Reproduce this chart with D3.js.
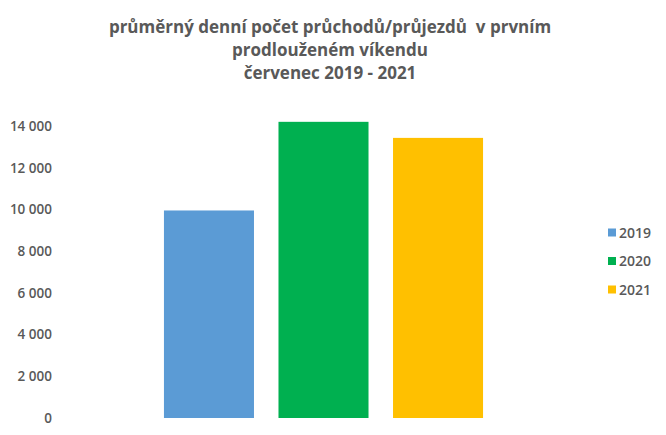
<!DOCTYPE html>
<html lang="cs">
<head>
<meta charset="UTF-8">
<title>průměrný denní počet průchodů</title>
<script src="https://cdn.jsdelivr.net/npm/d3@7"></script>
<style>
	body { margin: 0; background: #fff; }
	text { font-family: "Open Sans", "Liberation Sans", sans-serif; fill: #595959; }
</style>
</head>
<body>
<svg id="viz"></svg>
<script>
	// Data ---
	const years = ['2019', '2020', '2021'];
	const values = [9950, 14200, 13430];
	const colors = ['#5b9bd5', '#00b050', '#ffc000'];
	const yTicks = [0, 2000, 4000, 6000, 8000, 10000, 12000, 14000];
	const titleLines = [
		'průměrný denní počet průchodů/průjezdů  v prvním',
		'prodlouženém víkendu',
		'červenec 2019 - 2021'
	];

	const width = 666, height = 435;
	const svg = d3.select('#viz').attr('width', width).attr('height', height);

	// Scales ---
	const y = d3.scaleLinear().domain([0, 14000]).range([418, 126]);
	const x = d3.scaleBand().domain(years).range([152.5, 494.5])
		.paddingInner(0.214).paddingOuter(0.1);

	// Title ---
	svg.append('g').selectAll('text')
		.data(titleLines)
		.join('text')
		.attr('x', 330)
		.attr('y', (d, i) => 33 + i * 23)
		.attr('text-anchor', 'middle')
		.style('font-size', '17px')
		.style('font-weight', 'bold')
		.style('white-space', 'pre')
		.text(d => d);

	// Y axis ---
	const fmt = v => d3.format(',')(v).replace(/,/g, ' ');
	const yAxis = svg.append('g')
		.attr('transform', 'translate(52,0)')
		.call(d3.axisLeft(y).tickValues(yTicks).tickFormat(fmt).tickSize(0).tickPadding(0));
	yAxis.select('.domain').remove();
	yAxis.selectAll('text')
		.style('font-size', '13.5px')
		.style('font-weight', '600')
		.attr('fill', '#505050');

	// Bars ---
	svg.append('g').selectAll('rect')
		.data(values)
		.join('rect')
		.attr('x', (d, i) => x(years[i]))
		.attr('y', d => y(d))
		.attr('width', x.bandwidth())
		.attr('height', d => y(0) - y(d))
		.attr('fill', (d, i) => colors[i]);

	// Legend ---
	const legend = svg.append('g').selectAll('g')
		.data(years)
		.join('g')
		.attr('transform', (d, i) => `translate(608,${233 + i * 28.5})`);
	legend.append('rect')
		.attr('x', 0).attr('y', -4.5)
		.attr('width', 8).attr('height', 8)
		.attr('fill', (d, i) => colors[i]);
	legend.append('text')
		.attr('x', 11).attr('y', 0)
		.attr('dy', '0.35em')
		.style('font-size', '14px')
		.style('font-weight', '600')
		.attr('fill', '#505050')
		.text(d => d);
</script>
</body>
</html>
